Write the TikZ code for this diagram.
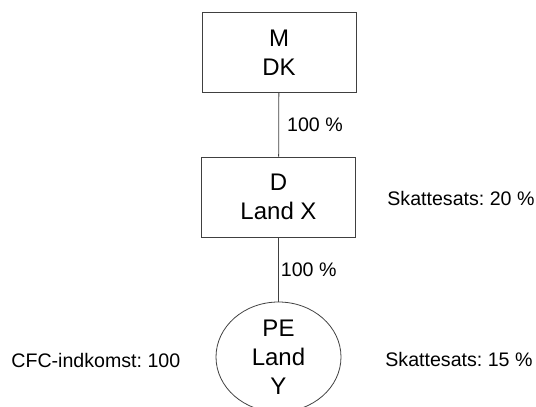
\documentclass[tikz,border=0pt]{standalone}
\usepackage{fontspec}
\setmainfont{Liberation Sans}
\frenchspacing
\usetikzlibrary{shapes.geometric}

\begin{document}
\begin{tikzpicture}[x=1pt,y=-1pt,
    line width=0.8pt,
    unit/.style={draw=black!75,minimum width=154pt,minimum height=80pt,inner sep=0pt},
    unittext/.style={align=center,inner sep=0pt,font=\fontsize{24}{29}\selectfont},
    pct/.style={inner sep=0pt,font=\fontsize{19.6}{23.5}\selectfont},
    note/.style={anchor=west,inner sep=0pt,font=\fontsize{19.6}{23.5}\selectfont}]
  \clip (0,0) rectangle (536,407);

  \node[unit,unittext] (m) at (279,52.5) {M\\DK};
  \node[unit,unittext] (d) at (278.5,197) {D\\Land X};
  \node[ellipse,draw=black!75,minimum width=125pt,minimum height=110pt,inner sep=0pt] (pe) at (278.5,357) {};
  \node[unittext] (petext) at (pe.center) {PE\\Land\\Y};

  \draw[black!75] (m) -- (d) node[pct,midway,right,xshift=8pt,text=black] (own1) {100 \%};
  \draw[black!75] (d) -- (pe) node[pct,midway,right,xshift=2pt,text=black] (own2) {100 \%};

  \node[note] (taxd) at (387,198) {Skattesats: 20 \%};
  \node[note] (taxpe) at (385,359) {Skattesats: 15 \%};
  \node[note] (cfc) at (11,360) {CFC-indkomst: 100};
\end{tikzpicture}
\end{document}
